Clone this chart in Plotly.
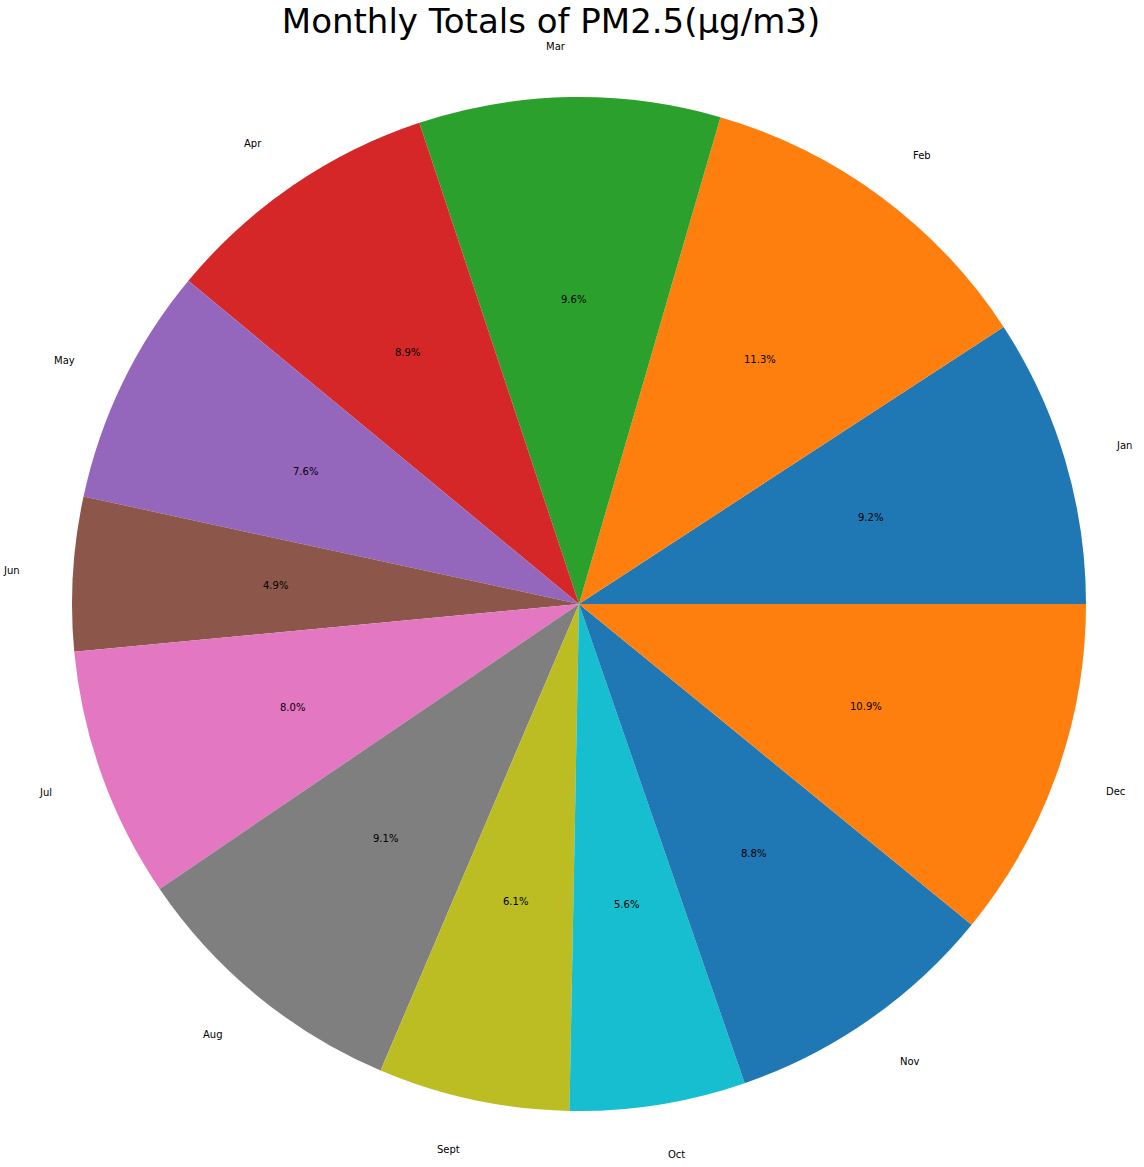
import math
import plotly.graph_objects as go

months = ["Jan", "Feb", "Mar", "Apr", "May", "Jun", "Jul", "Aug", "Sept", "Oct", "Nov", "Dec"]
share = [9.2, 11.3, 9.6, 8.9, 7.6, 4.9, 8.0, 9.1, 6.1, 5.6, 8.8, 10.9]
colors = ["#1f77b4", "#ff7f0e", "#2ca02c", "#d62728", "#9467bd", "#8c564b",
          "#e377c2", "#7f7f7f", "#bcbd22", "#17becf", "#1f77b4", "#ff7f0e"]
title = "Monthly Totals of PM2.5(μg/m3)"

W, H = 1144, 1167
cx_px, cy_px, r_px = 579, 604, 507

total = sum(share)
rot = 90 - share[0] / total * 360

fig = go.Figure(go.Pie(
    labels=months, values=share, sort=False, direction="counterclockwise",
    rotation=rot, marker=dict(colors=colors, line=dict(width=0)),
    textinfo="none", hoverinfo="label+percent", showlegend=False,
    domain=dict(x=[(cx_px - r_px) / W, (cx_px + r_px) / W],
                y=[1 - (cy_px + r_px) / H, 1 - (cy_px - r_px) / H]),
))

ann = []
start = 0.0
for m, v in zip(months, share):
    mid = (start + v / 2) / total * 2 * math.pi
    start += v
    c, s = math.cos(mid), math.sin(mid)
    lx = (cx_px + 1.1 * r_px * c) / W
    ly = 1 - (cy_px - 1.1 * r_px * s) / H
    ann.append(dict(x=lx, y=ly, xref="paper", yref="paper", text=m, showarrow=False,
                    xanchor="left" if c > 0 else "right", yanchor="middle",
                    font=dict(size=10, color="black")))
    px_ = (cx_px + 0.6 * r_px * c) / W
    py_ = 1 - (cy_px - 0.6 * r_px * s) / H
    ann.append(dict(x=px_, y=py_, xref="paper", yref="paper", text=f"{v / total * 100:.1f}%",
                    showarrow=False, xanchor="center", yanchor="middle",
                    font=dict(size=10, color="black")))

fig.update_layout(
    width=W, height=H, margin=dict(l=0, r=0, t=0, b=0),
    paper_bgcolor="white", plot_bgcolor="white",
    font=dict(family="DejaVu Sans"),
    title=dict(text=title, x=551 / W, xanchor="center", y=1 - 21 / H, yanchor="middle",
               font=dict(size=34, color="black")),
    annotations=ann,
)

fig.write_html("out.html", config={"displayModeBar": False},
               post_script="document.body.style.margin='0';")
